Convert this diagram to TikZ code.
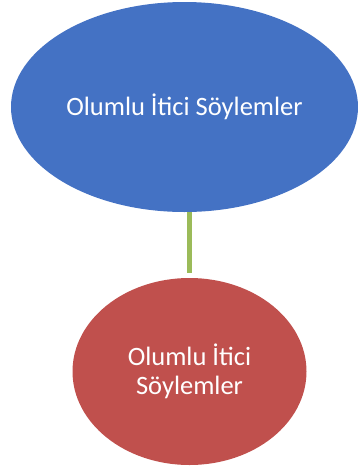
\documentclass[tikz,border=0pt]{standalone}
\usepackage{fontspec}
\setmainfont{Carlito}
\usetikzlibrary{shapes.geometric}
\definecolor{ablue}{HTML}{4472C4}
\definecolor{ared}{HTML}{C0504D}
\definecolor{agreen}{HTML}{9BBB59}
\begin{document}
\begin{tikzpicture}[x=1pt,y=-1pt,
  blob/.style={ellipse, inner sep=0pt, text=white, font=\fontsize{26.5}{29}\selectfont, align=center},
  link/.style={agreen, line width=5.5pt, shorten >=5.3pt}]
\useasboundingbox (0,0) rectangle (357,467);
\node[blob, fill=ablue, minimum width=347pt, minimum height=210pt] (top) at (184.5,107) {Olumlu İtici Söylemler};
\node[blob, fill=ared, minimum width=234pt, minimum height=187pt] (bot) at (189.5,371.5) {Olumlu İtici\\Söylemler};
\draw[link] (top.south -| bot.north) -- (bot.north);
\end{tikzpicture}
\end{document}
